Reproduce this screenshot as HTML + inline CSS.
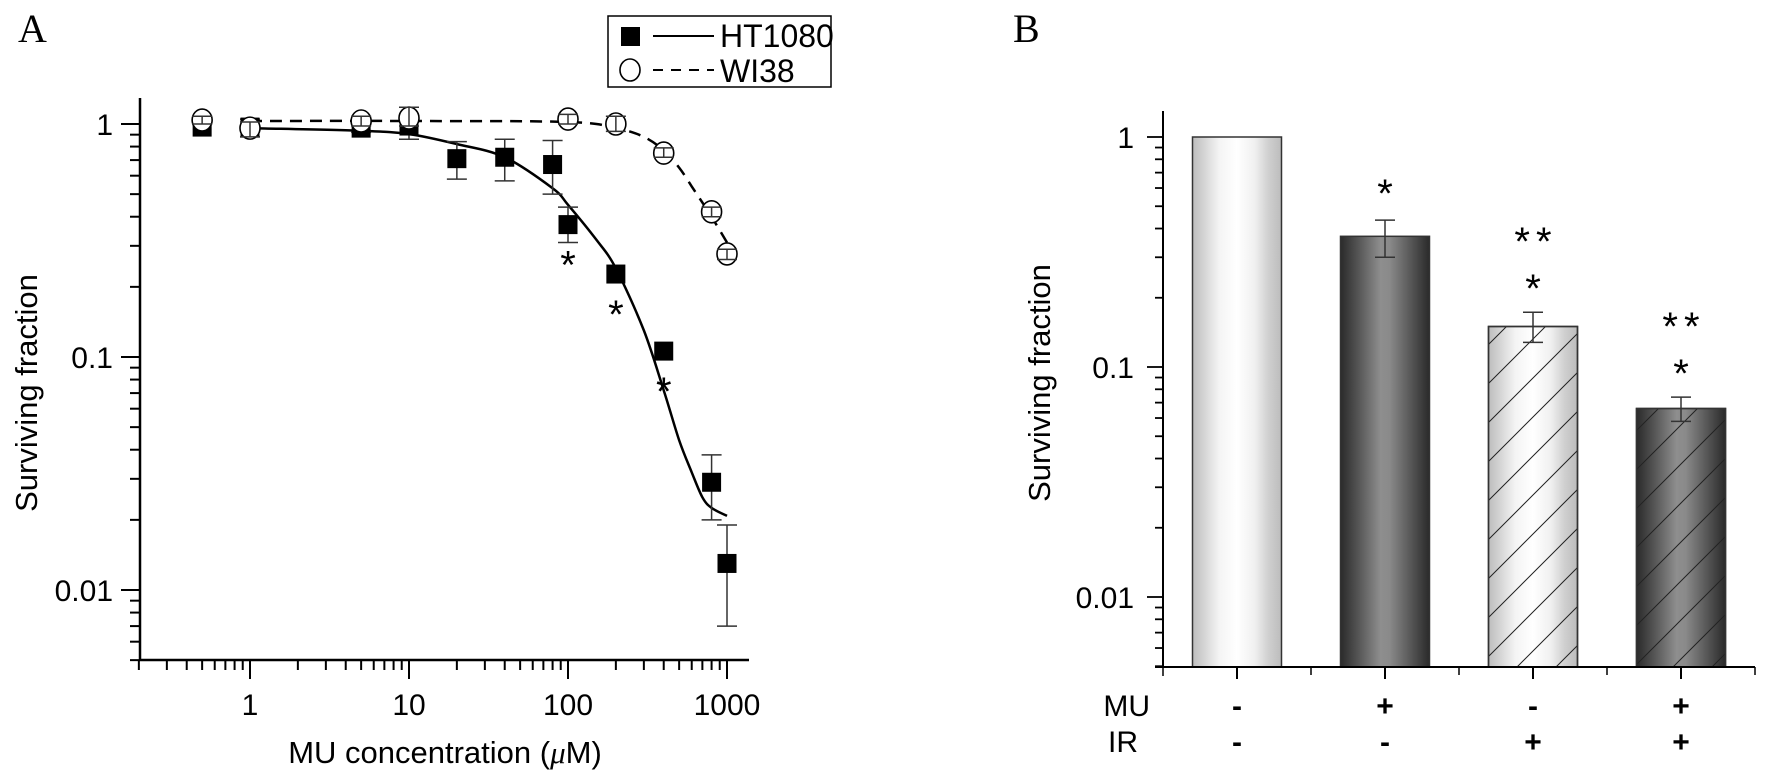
<!DOCTYPE html>
<html><head><meta charset="utf-8"><style>
html,body{margin:0;padding:0;background:#fff;}
svg{display:block;font-family:"Liberation Sans",Arial,sans-serif;}
</style></head><body>
<svg id="fig" width="1768" height="779" viewBox="0 0 1768 779" xmlns="http://www.w3.org/2000/svg">
<defs>
<linearGradient id="gLight" x1="0" x2="1" y1="0" y2="0">
<stop offset="0" stop-color="#bdbdbd"/><stop offset="0.15" stop-color="#d8d8d8"/><stop offset="0.3" stop-color="#f4f4f4"/><stop offset="0.5" stop-color="#ffffff"/><stop offset="0.7" stop-color="#f0f0f0"/><stop offset="0.85" stop-color="#d0d0d0"/><stop offset="1" stop-color="#bcbcbc"/>
</linearGradient>
<linearGradient id="gDark" x1="0" x2="1" y1="0" y2="0">
<stop offset="0" stop-color="#2a2a2a"/><stop offset="0.2" stop-color="#555"/><stop offset="0.45" stop-color="#8e8e8e"/><stop offset="0.55" stop-color="#8a8a8a"/><stop offset="0.8" stop-color="#555"/><stop offset="1" stop-color="#2a2a2a"/>
</linearGradient>
<pattern id="hatch" patternUnits="userSpaceOnUse" width="39" height="39">
<path d="M0,39 L39,0 M-2,2 L2,-2 M37,41 L41,37" stroke="#222" stroke-width="1"/>
</pattern>
</defs>
<text x="18" y="42" font-family="Liberation Serif,serif" font-size="40">A</text>
<text x="1013" y="42" font-family="Liberation Serif,serif" font-size="40">B</text>
<g id="A"></g>
<g id="B"></g>
</svg>
<script>
// ---------- Panel A data ----------
const htX = [0.5, 1, 5, 10, 20, 40, 80, 100, 200, 400, 800, 1000];
const htY = [0.97, 0.97, 0.96, 0.98, 0.71, 0.72, 0.67, 0.37, 0.227, 0.106, 0.029, 0.013];
const htLo = [0.97, 0.88, 0.92, 0.86, 0.58, 0.57, 0.50, 0.31, 0.227, 0.106, 0.020, 0.007];
const htHi = [0.97, 1.05, 1.00, 1.05, 0.84, 0.86, 0.85, 0.44, 0.227, 0.106, 0.038, 0.019];
const wiX = [0.5, 1, 5, 10, 100, 200, 400, 800, 1000];
const wiY = [1.04, 0.96, 1.03, 1.06, 1.05, 1.00, 0.75, 0.42, 0.277];
const wiLo = [1.00, 0.88, 0.98, 0.98, 1.00, 0.93, 0.72, 0.40, 0.262];
const wiHi = [1.08, 1.02, 1.08, 1.18, 1.10, 1.08, 0.79, 0.44, 0.29];
const htFitX = [1, 5, 10, 20, 40, 80, 100, 150, 200, 300, 400, 500, 600, 700, 800, 1000];
const htFitY = [0.96, 0.935, 0.905, 0.82, 0.72, 0.53, 0.45, 0.32, 0.24, 0.13, 0.072, 0.044, 0.032, 0.025, 0.0225, 0.0208];
const wiFitX = [1, 10, 100, 200, 300, 400, 500, 600, 700, 800, 1000];
const wiFitY = [1.03, 1.03, 1.02, 0.96, 0.88, 0.77, 0.65, 0.54, 0.46, 0.40, 0.31];
const starAX = [100, 200, 400];
const starAY = [0.37, 0.227, 0.106];
const xTickA = [1, 10, 100, 1000];
const xTickALabels = ["1", "10", "100", "1000"];
const yTickA = [1, 0.1, 0.01];
const yTickALabels = ["1", "0.1", "0.01"];
// ---------- Panel B data ----------
const barCats = ["control", "MU", "IR", "MU+IR"];
const barVals = [1.0, 0.37, 0.150, 0.066];
const barLo = [1.0, 0.30, 0.128, 0.058];
const barHi = [1.0, 0.435, 0.173, 0.074];
const barMU = ["-", "+", "-", "+"];
const barIR = ["-", "-", "+", "+"];
const barStars = [["",""], ["*",""], ["*","**"], ["*","**"]];
const yTickB = [1, 0.1, 0.01];
const yTickBLabels = ["1", "0.1", "0.01"];

const NS = "http://www.w3.org/2000/svg";
function mk(parent, tag, attrs, txt){
  const e = document.createElementNS(NS, tag);
  for (const k in attrs) e.setAttribute(k, attrs[k]);
  if (txt !== undefined) e.textContent = txt;
  parent.appendChild(e);
  return e;
}
const L = Math.log10;
const xA = v => 250 + 159 * L(v);
const yA = v => 124 - 233 * L(v);
const yB = v => 137 - 230 * L(v);
const xB = i => 1237 + 148 * i;

function smoothPath(pts){
  let d = "M" + pts[0][0].toFixed(1) + "," + pts[0][1].toFixed(1);
  for (let i = 0; i < pts.length - 1; i++){
    const p0 = pts[i-1] || pts[i], p1 = pts[i], p2 = pts[i+1], p3 = pts[i+2] || pts[i+1];
    const c1 = [p1[0] + (p2[0]-p0[0])/6, p1[1] + (p2[1]-p0[1])/6];
    const c2 = [p2[0] - (p3[0]-p1[0])/6, p2[1] - (p3[1]-p1[1])/6];
    d += " C" + c1.map(n=>n.toFixed(1)).join(",") + " " + c2.map(n=>n.toFixed(1)).join(",") + " " + p2[0].toFixed(1) + "," + p2[1].toFixed(1);
  }
  return d;
}

// ---------- Panel A ----------
const A = document.getElementById("A");
let el;
el = mk(A, "line", {x1:140, y1:98, x2:140, y2:661, stroke:"#000", "stroke-width":2.5});


el = mk(A, "line", {x1:139, y1:660, x2:749, y2:660, stroke:"#000", "stroke-width":2.5});


for (let dec = -1; dec <= 3; dec++){
  for (let m = 1; m <= 9; m++){
    const v = m * Math.pow(10, dec);
    if (v < 0.2 || v > 1400) continue;
    const x = xA(v), major = (m === 1);
    el = mk(A, "line", {x1:x, y1:660, x2:x, y2: major ? 679 : 670, stroke:"#000", "stroke-width":2});
    
    
  }
}
xTickA.forEach((v, i) => {
  el = mk(A, "text", {x:xA(v), y:715, "text-anchor":"middle", "font-size":30}, xTickALabels[i]);
  
  
});
for (let dec = -3; dec <= 0; dec++){
  for (let m = 1; m <= 9; m++){
    const v = m * Math.pow(10, dec);
    if (v < 0.005 || v > 1.2) continue;
    const y = yA(v), major = (m === 1);
    el = mk(A, "line", {x1: major ? 121 : 130, y1:y, x2:140, y2:y, stroke:"#000", "stroke-width":2});
    
    
  }
}
yTickA.forEach((v, i) => {
  el = mk(A, "text", {x:113, y:yA(v)+11, "text-anchor":"end", "font-size":30}, yTickALabels[i]);
  
  
});
el = mk(A, "text", {x:0, y:0, "text-anchor":"middle", "font-size":31, transform:"translate(37,393) rotate(-90)"}, "Surviving fraction");


el = mk(A, "text", {x:445, y:763, "text-anchor":"middle", "font-size":31}, "MU concentration (");


{
  const t = el;
  mk(t, "tspan", {"font-style":"italic", "font-family":"Liberation Serif,serif"}, "μ");
  mk(t, "tspan", {}, "M)");
}
el = mk(A, "path", {d: smoothPath(htFitX.map((x,i)=>[xA(x), yA(htFitY[i])])), fill:"none", stroke:"#000", "stroke-width":2.5});


el = mk(A, "path", {d: smoothPath(wiFitX.map((x,i)=>[xA(x), yA(wiFitY[i])])), fill:"none", stroke:"#000", "stroke-width":2.5, "stroke-dasharray":"12,8"});


function errBar(g, x, lo, hi, yf, name){
  const e = mk(g, "path", {d:`M${x},${yf(lo)} L${x},${yf(hi)} M${x-10},${yf(lo)} L${x+10},${yf(lo)} M${x-10},${yf(hi)} L${x+10},${yf(hi)}`, stroke:"#333", "stroke-width":1.5, fill:"none"});
  
  
}
htX.forEach((x,i)=>{ if (htHi[i] !== htLo[i]) errBar(A, xA(x), htLo[i], htHi[i], yA, 'ht1080-error-bar'); });
htX.forEach((x,i)=>{
  el = mk(A, "rect", {x:xA(x)-9.5, y:yA(htY[i])-9.5, width:19, height:19, fill:"#000"});
  
  
});
wiX.forEach((x,i)=>{
  el = mk(A, "ellipse", {cx:xA(x), cy:yA(wiY[i]), rx:10, ry:11, fill:"#fff", stroke:"#000", "stroke-width":1.6});
  
  
});
wiX.forEach((x,i)=>{ errBar(A, xA(x), wiLo[i], wiHi[i], yA, 'wi38-error-bar'); });
starAX.forEach((x,i)=>{
  el = mk(A, "text", {x:xA(x), y:yA(starAY[i])+54, "text-anchor":"middle", "font-size":40}, "*");
  
  
});
el = mk(A, "rect", {x:608, y:16, width:223, height:71, fill:"#fff", stroke:"#000", "stroke-width":1.5});


el = mk(A, "rect", {x:621, y:27, width:19, height:19, fill:"#000"});


el = mk(A, "line", {x1:653, y1:36, x2:714, y2:36, stroke:"#000", "stroke-width":2});


el = mk(A, "text", {x:720, y:47, "font-size":32}, "HT1080");


el = mk(A, "ellipse", {cx:630, cy:70, rx:10, ry:11, fill:"#fff", stroke:"#000", "stroke-width":1.6});


el = mk(A, "line", {x1:653, y1:70, x2:714, y2:70, stroke:"#000", "stroke-width":2, "stroke-dasharray":"10,8"});


el = mk(A, "text", {x:720, y:82, "font-size":32}, "WI38");



// ---------- Panel B ----------
const B = document.getElementById("B");
const base = 667;
barVals.forEach((v,i)=>{
  const x = xB(i) - 44.5, y = yB(v);
  const dark = (i % 2 === 1);
  el = mk(B, "rect", {x:x, y:y, width:89, height:base-y, fill: dark ? "url(#gDark)" : "url(#gLight)", stroke:"#333", "stroke-width":1.5});
  
  
  if (i >= 2){
    el = mk(B, "rect", {x:x, y:y, width:89, height:base-y, fill:"url(#hatch)", stroke:"#333", "stroke-width":1.5});
    
    
  }
  if (barHi[i] !== barLo[i]) errBar(B, xB(i), barLo[i], barHi[i], yB, 'bar-error-bar');
  const s = barStars[i];
  if (s[0]){
    el = mk(B, "text", {x:xB(i), y:(i===1 ? 184 : yB(barHi[i])-33)+23, "text-anchor":"middle", "font-size":40}, s[0]);
    
    
  }
  if (s[1]){
    el = mk(B, "text", {x:xB(i)+3, y:yB(barHi[i])-80+23, "text-anchor":"middle", "font-size":40, "letter-spacing":"6"}, s[1]);
    
    
  }
  el = mk(B, "text", {x:xB(i), y:716, "text-anchor":"middle", "font-size":30, "font-weight":"bold"}, barMU[i]);
  
  
  el = mk(B, "text", {x:xB(i), y:752, "text-anchor":"middle", "font-size":30, "font-weight":"bold"}, barIR[i]);
  
  
  el = mk(B, "line", {x1:xB(i), y1:base, x2:xB(i), y2:base+12, stroke:"#000", "stroke-width":2});
  
  
  el = mk(B, "line", {x1:xB(i)+74, y1:base, x2:xB(i)+74, y2:base+8, stroke:"#000", "stroke-width":1.5});
  
  
});
el = mk(B, "line", {x1:1163, y1:111, x2:1163, y2:668, stroke:"#000", "stroke-width":2});


el = mk(B, "line", {x1:1155, y1:667, x2:1755, y2:667, stroke:"#000", "stroke-width":2});


el = mk(B, "line", {x1:1163, y1:667, x2:1163, y2:676, stroke:"#000", "stroke-width":1.5});


for (let dec = -3; dec <= 0; dec++){
  for (let m = 1; m <= 9; m++){
    const v = m * Math.pow(10, dec);
    if (v < 0.005 || v > 1.05) continue;
    const y = yB(v), major = (m === 1);
    el = mk(B, "line", {x1: major ? 1147 : 1155, y1:y, x2:1163, y2:y, stroke:"#000", "stroke-width":1.8});
    
    
  }
}
yTickB.forEach((v,i)=>{
  el = mk(B, "text", {x:1134, y:yB(v)+11, "text-anchor":"end", "font-size":30}, yTickBLabels[i]);
  
  
});
el = mk(B, "text", {x:0, y:0, "text-anchor":"middle", "font-size":31, transform:"translate(1050,383) rotate(-90)"}, "Surviving fraction");


el = mk(B, "text", {x:1150, y:716, "text-anchor":"end", "font-size":30}, "MU");


el = mk(B, "text", {x:1138, y:752, "text-anchor":"end", "font-size":30}, "IR");


</script>
</body></html>
